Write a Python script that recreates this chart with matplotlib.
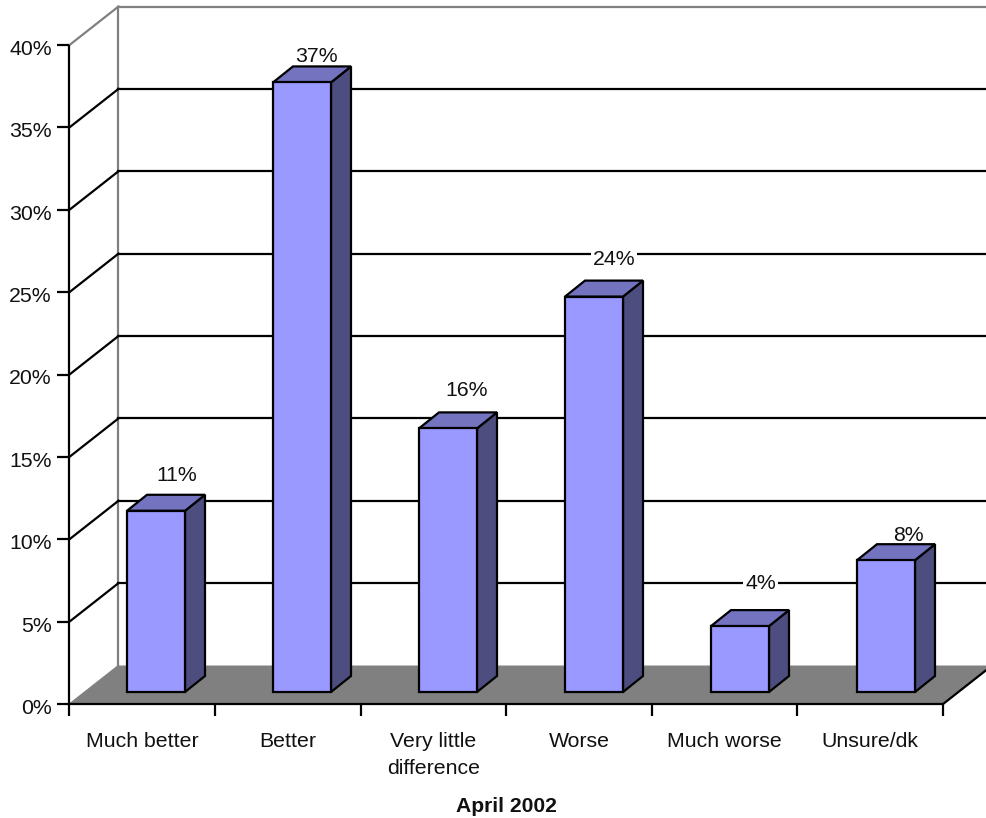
import matplotlib
matplotlib.use('Agg')
import matplotlib.pyplot as plt

categorias = ['Much better', 'Better', 'Very little\ndifference', 'Worse', 'Much worse', 'Unsure/dk']
valores = [11, 37, 16, 24, 4, 8]
ticks_y = [0, 5, 10, 15, 20, 25, 30, 35, 40]
titulo_x = 'April 2002'

# layout em pixels da imagem
W, H = 987, 818
X0, Y0 = 69.5, 704
PX_CAT = 145.6
PX_PCT = 16.475

plt.rcParams['font.family'] = ['Liberation Sans', 'DejaVu Sans']
plt.rcParams['font.size'] = 15.3

fig = plt.figure(figsize=(W / 100, H / 100), dpi=100)
ax = fig.add_axes([0, 0, 1, 1])
ax.set_xlim(-X0 / PX_CAT, (W - X0) / PX_CAT)
ax.set_ylim((Y0 - H) / PX_PCT, Y0 / PX_PCT)
ax.axis('off')

# profundidade do "3d" em unidades dos eixos
DX, DY = 49 / PX_CAT, 38.5 / PX_PCT
BAR_DX, BAR_DY = 20 / PX_CAT, 16 / PX_PCT
BAR_W = 58 / PX_CAT
BAR_LEFT = 57.5 / PX_CAT
BAR_PASSO = 146 / PX_CAT
BAR_BASE = 12 / PX_PCT
LW = 1.6
n = len(categorias)
topo = ticks_y[-1]
direita = ax.get_xlim()[1]

# chao
ax.fill([0, n, n + DX, DX], [0, 0, DY, DY], color='#808080', lw=0, zorder=1)
ax.plot([0, DX], [0, DY], color='#808080', lw=1, zorder=2)
ax.plot([n, n + DX], [0, DY], color='black', lw=LW, zorder=2, solid_capstyle='butt')

# parede e grades
ax.plot([DX, DX], [DY, topo + DY], color='#808080', lw=LW, zorder=2)
for t in ticks_y[1:]:
    cor = '#808080' if t == topo else 'black'
    ax.plot([0, DX], [t, t + DY], color=cor, lw=LW, zorder=2)
    ax.plot([DX, direita], [t + DY, t + DY], color=cor, lw=LW, zorder=2)

# eixos
ax.plot([0, 0], [-12 / PX_PCT, topo], color='black', lw=LW, zorder=3, solid_capstyle='butt')
ax.plot([0, n], [0, 0], color='black', lw=LW, zorder=3, solid_capstyle='butt')
for t in ticks_y:
    ax.plot([-12 / PX_CAT, 0], [t, t], color='black', lw=LW, zorder=3, solid_capstyle='butt')
    ax.text(-17.5 / PX_CAT, t - 4.5 / PX_PCT, f'{t}%', ha='right', va='center', color='#111111')
for i in range(1, n + 1):
    ax.plot([i, i], [0, -12 / PX_PCT], color='black', lw=LW, zorder=3, solid_capstyle='butt')

# barras
label_dx = [50, 43, 48, 49, 50, 51]
label_dy = [35, 26, 38, 37, 43, 25]
for i, v in enumerate(valores):
    x1 = i * BAR_PASSO + BAR_LEFT
    x2 = x1 + BAR_W
    y1 = BAR_BASE
    y2 = BAR_BASE + v
    estilo = dict(edgecolor='black', lw=LW, joinstyle='miter', zorder=4)
    ax.fill([x2, x2 + BAR_DX, x2 + BAR_DX, x2], [y1, y1 + BAR_DY, y2 + BAR_DY, y2],
            facecolor='#4D4D80', **estilo)
    ax.fill([x1, x2, x2 + BAR_DX, x1 + BAR_DX], [y2, y2, y2 + BAR_DY, y2 + BAR_DY],
            facecolor='#7373BF', **estilo)
    ax.fill([x1, x2, x2, x1], [y1, y1, y2, y2], facecolor='#9999FF', **estilo)
    # rotulo por baixo da barra, para a caixa branca so cortar a grade
    ax.text(x1 + label_dx[i] / PX_CAT, y2 + label_dy[i] / PX_PCT, f'{v}%', ha='center', va='center',
            color='#111111', zorder=3.5,
            bbox=dict(facecolor='white', edgecolor='none', pad=1.5))

# rotulos do eixo x
for i, c in enumerate(categorias):
    ax.text(i + 0.5, -28 / PX_PCT, c, ha='center', va='top', color='#111111', linespacing=1.55)
ax.text(n / 2, -102 / PX_PCT, titulo_x, ha='center', va='center', fontweight='bold', fontsize=15.2,
        color='#111111')

fig.savefig('out.png', dpi=100)
